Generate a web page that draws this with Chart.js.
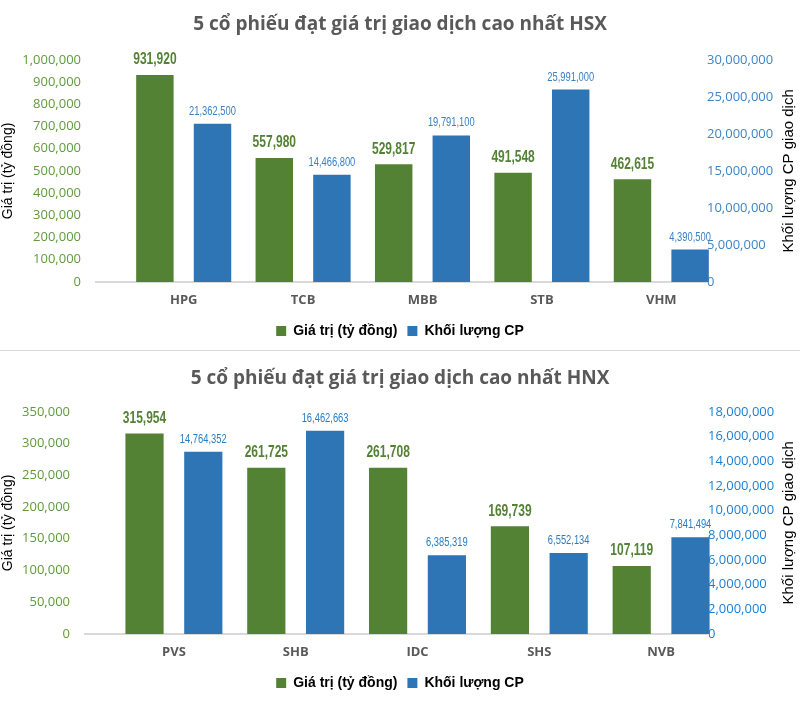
<!DOCTYPE html>
<html><head><meta charset="utf-8">
<script src="https://cdn.jsdelivr.net/npm/chart.js@4.4.0/dist/chart.umd.min.js"></script>
<style>
html,body{margin:0;padding:0;background:#fff;}
body{width:800px;height:728px;position:relative;overflow:hidden;}
.box{position:absolute;left:0;width:800px;height:350px;}
#b1{top:0}
#b2{top:352px}
#sep{position:absolute;left:0;top:350px;width:800px;height:1px;background:#d9d9d9;}
</style></head><body>
<div id="b1" class="box"><canvas id="c1" width="800" height="350"></canvas></div>
<div id="sep"></div>
<div id="b2" class="box"><canvas id="c2" width="800" height="350"></canvas></div>
<script>
// ---- Data: HSX ----
const hsxTitle = '5 cổ phiếu đạt giá trị giao dịch cao nhất HSX';
const hsxCategories = ['HPG', 'TCB', 'MBB', 'STB', 'VHM'];
const hsxValue = [931920, 557980, 529817, 491548, 462615];
const hsxVolume = [21362500, 14466800, 19791100, 25991000, 4390500];
const hsxValueAxis = [0, 1000000, 100000];   // min, max, step
const hsxVolumeAxis = [0, 30000000, 5000000];

// ---- Data: HNX ----
const hnxTitle = '5 cổ phiếu đạt giá trị giao dịch cao nhất HNX';
const hnxCategories = ['PVS', 'SHB', 'IDC', 'SHS', 'NVB'];
const hnxValue = [315954, 261725, 261708, 169739, 107119];
const hnxVolume = [14764352, 16462663, 6385319, 6552134, 7841494];
const hnxValueAxis = [0, 350000, 50000];
const hnxVolumeAxis = [0, 18000000, 2000000];

const seriesNames = ['Giá trị (tỷ đồng)', 'Khối lượng CP'];
const leftAxisTitle = 'Giá trị (tỷ đồng)';
const rightAxisTitle = 'Khối lượng CP giao dịch';

const GREEN = '#548235', BLUE = '#2E75B6';
const SANS = "'Liberation Sans', Arial, sans-serif";
const fmt = v => Number(v).toLocaleString('en-US');

const barLabels = {
  id: 'barLabels',
  afterDatasetsDraw(chart, args, opts) {
    const ctx = chart.ctx;
    chart.data.datasets.forEach((ds, i) => {
      const meta = chart.getDatasetMeta(i);
      meta.data.forEach((el, j) => {
        ctx.save();
        ctx.font = opts.fonts[i];
        ctx.fillStyle = opts.colors[i];
        ctx.textAlign = 'center';
        ctx.textBaseline = 'bottom';
        ctx.translate(el.x, el.y - opts.offsets[i]);
        ctx.scale(opts.squeeze[i], 1);
        ctx.fillText(fmt(ds.data[j]), 0, 0);
        ctx.restore();
      });
    });
  }
};

const rightTitle = {
  id: 'rightTitle',
  afterDraw(chart, args, opts) {
    const ctx = chart.ctx, ca = chart.chartArea;
    ctx.save();
    ctx.translate(opts.x, (ca.top + ca.bottom) / 2);
    ctx.rotate(-Math.PI / 2);
    ctx.font = opts.font;
    ctx.fillStyle = opts.color;
    ctx.textAlign = 'center';
    ctx.textBaseline = 'middle';
    ctx.fillText(opts.text, 0, 0);
    ctx.restore();
  }
};

const baseLine = {
  id: 'baseLine',
  beforeDatasetsDraw(chart, args, opts) {
    const ctx = chart.ctx, ca = chart.chartArea;
    const y = Math.round(chart.scales.y.getPixelForValue(0));
    ctx.save();
    ctx.strokeStyle = '#d9d9d9';
    ctx.lineWidth = 2;
    ctx.beginPath();
    ctx.moveTo(ca.left - opts.extendLeft, y);
    ctx.lineTo(ca.right - opts.trimRight, y);
    ctx.stroke();
    ctx.restore();
  }
};

function makeChart(id, cfg) {
  return new Chart(document.getElementById(id), {
    type: 'bar',
    data: {
      labels: cfg.categories,
      datasets: [
        { label: seriesNames[0], data: cfg.value, backgroundColor: GREEN, yAxisID: 'y',
          barPercentage: 0.65, categoryPercentage: 0.965 },
        { label: seriesNames[1], data: cfg.volume, backgroundColor: BLUE, yAxisID: 'y1',
          barPercentage: 0.65, categoryPercentage: 0.965 }
      ]
    },
    options: {
      responsive: false,
      animation: false,
      layout: { padding: { top: 0, bottom: 2, left: 0, right: 0 } },
      scales: {
        x: {
          offset: true,
          grid: { display: false, drawTicks: false },
          border: { display: false },
          ticks: { color: '#595959', padding: 10,
                   font: { family: "'Open Sans', sans-serif", size: 13, weight: 'bold' } },
          afterFit(s) { s.height = 32; }
        },
        y: {
          position: 'left',
          min: cfg.valueAxis[0], max: cfg.valueAxis[1],
          grid: { display: false, drawTicks: false },
          border: { display: false },
          ticks: { stepSize: cfg.valueAxis[2], autoSkip: false, padding: 43, color: '#609B3A',
                   font: { family: "'Open Sans', sans-serif", size: 13 }, callback: v => fmt(v) },
          title: { display: true, text: leftAxisTitle, color: '#000', padding: 0,
                   font: { family: SANS, size: 14 } },
          afterFit(s) { s.width = cfg.leftWidth; }
        },
        y1: {
          position: 'right',
          min: cfg.volumeAxis[0], max: cfg.volumeAxis[1],
          grid: { display: false, drawTicks: false },
          border: { display: false },
          ticks: { stepSize: cfg.volumeAxis[2], autoSkip: false, padding: -14, color: cfg.rightTickColor,
                   font: { family: "'Open Sans', sans-serif", size: 13 }, callback: v => fmt(v) },
          afterFit(s) { s.width = cfg.rightWidth; s._computeLabelArea = () => null; }
        }
      },
      plugins: {
        title: { display: true, text: cfg.title, color: '#595959',
                 font: { family: "'Open Sans', sans-serif", size: 19, weight: 'bold' },
                 padding: cfg.titlePadding },
        legend: { position: 'bottom',
                  labels: { boxWidth: 10, boxHeight: 10, padding: 10, color: '#000',
                            font: { family: SANS, size: 14, weight: 'bold' } } },
        tooltip: { enabled: false },
        barLabels: { fonts: ['bold 16px ' + SANS, '13px ' + SANS],
                     squeeze: [0.75, 0.72],
                     colors: [GREEN, cfg.blueLabelColor], offsets: [7, 6] },
        rightTitle: { text: rightAxisTitle, x: 789, color: '#000',
                      font: '15px ' + SANS },
        baseLine: { extendLeft: 29, trimRight: 13 }
      }
    },
    plugins: [barLabels, rightTitle, baseLine]
  });
}

makeChart('c1', { title: hsxTitle, categories: hsxCategories, value: hsxValue, volume: hsxVolume,
  valueAxis: hsxValueAxis, volumeAxis: hsxVolumeAxis, leftWidth: 124, rightWidth: 79,
  titlePadding: { top: 13, bottom: 24 },
  rightTickColor: '#3D85C6', blueLabelColor: '#3A80C4' });
makeChart('c2', { title: hnxTitle, categories: hnxCategories, value: hnxValue, volume: hnxVolume,
  valueAxis: hnxValueAxis, volumeAxis: hnxVolumeAxis, leftWidth: 113, rightWidth: 78,
  titlePadding: { top: 15, bottom: 22 },
  rightTickColor: '#1A7FD4', blueLabelColor: '#2A7CC4' });
</script>
</body></html>
